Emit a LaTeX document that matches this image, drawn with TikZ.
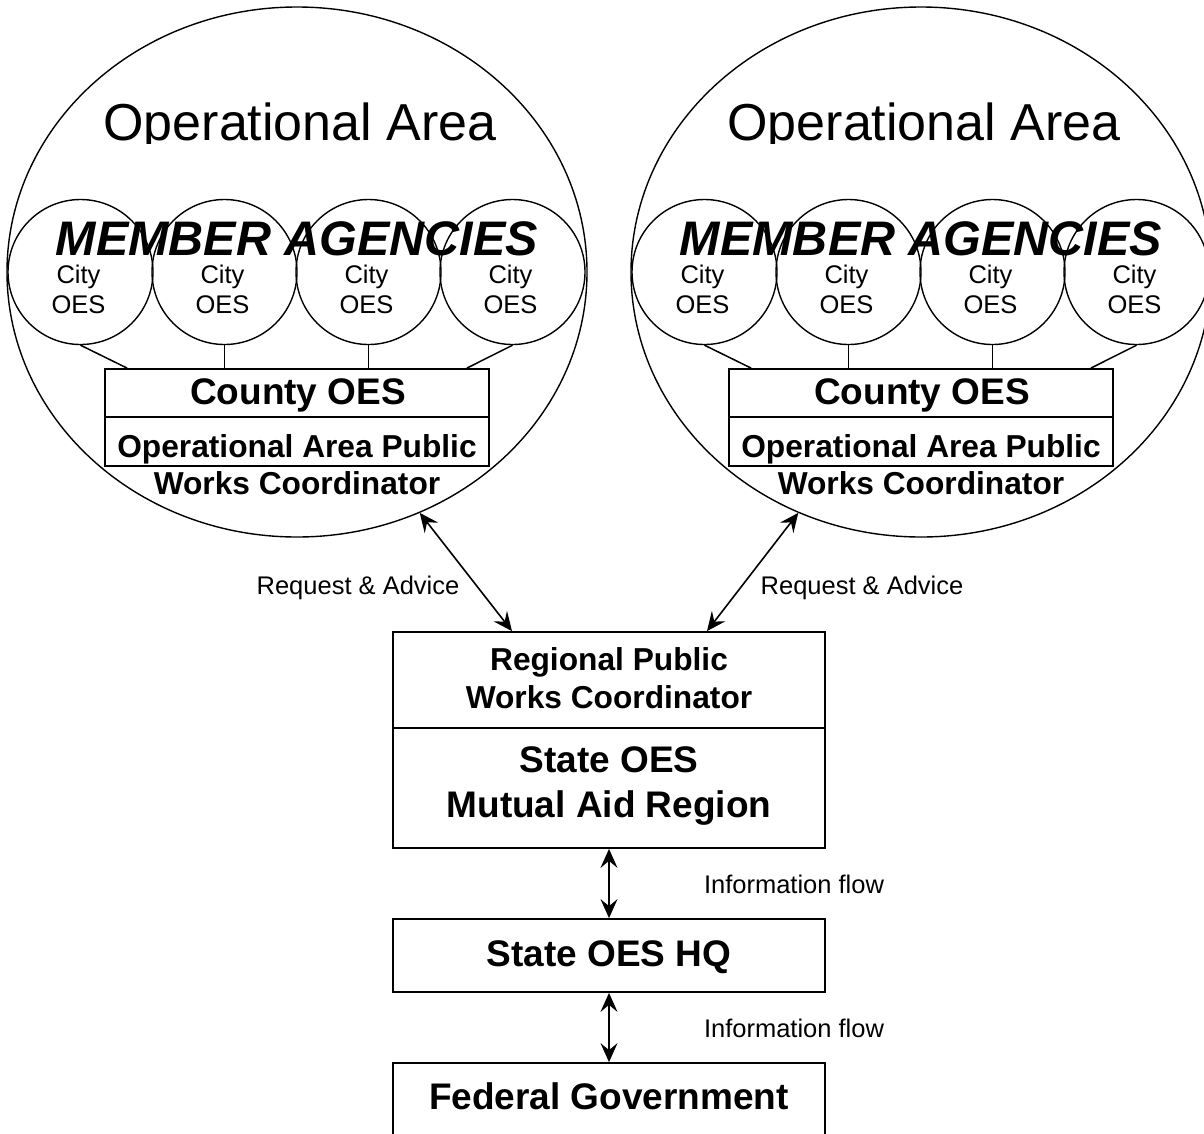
\documentclass[tikz,border=0pt]{standalone}
\usepackage{fontspec}
\setmainfont{Liberation Sans}
\usetikzlibrary{shapes.geometric,arrows.meta}

\newcommand{\setfs}[1]{\fontsize{#1}{#1}\selectfont}

\tikzset{
  area/.style={ellipse, draw, line width=1.4pt, minimum width=580pt, minimum height=530pt, inner sep=0pt},
  city/.style={circle, draw, line width=1.4pt, minimum size=145pt, inner sep=0pt},
  box/.style={rectangle, draw, line width=1.8pt, inner sep=0pt},
  link/.style={line width=1.5pt},
  headtip/.tip={Stealth[length=19pt,width=17pt,inset=7pt]},
  flow/.style={line width=1.6pt, headtip-headtip},
  txt/.style={anchor=base, inner sep=0pt},
  areatitle/.style={txt, font=\setfs{52}},
  member/.style={txt, font=\bfseries\itshape\setfs{48.5}},
  small/.style={txt, font=\setfs{25.5}},
  boxbig/.style={txt, font=\bfseries\setfs{37}},
  boxmid/.style={txt, font=\bfseries\setfs{37}},
  boxsmall/.style={txt, font=\bfseries\setfs{31.7}},
}

\begin{document}
\begin{tikzpicture}[x=1pt, y=-1pt]
  \useasboundingbox (0,0) rectangle (1204,1133);
  \clip (0,0) rectangle (1204,1133);

  % the two operational areas
  \foreach \s/\dx in {L/0, R/624} {
    \node[area] (area\s) at (297+\dx,272) {};
    \begin{scope}
      \clip (0,0) rectangle (1204,143);
      \node[areatitle] (title\s) at (300+\dx,140) {Operational Area};
    \end{scope}

    % member agencies
    \foreach \k/\cx in {1/80.5, 2/224.5, 3/368.5, 4/512.5} {
      \node[city] (c\s\k) at (\cx+\dx,272) {};
      \node[small] (cityA\s\k) at (\cx+\dx-2,283) {City};
      \node[small] (cityB\s\k) at (\cx+\dx-2,313) {OES};
    }
    \node[member] (mem\s) at (297+\dx,255) {MEMBER AGENCIES};

    % county office
    \node[box, minimum width=384pt, minimum height=48pt] (ctop\s) at (297+\dx,393) {};
    \node[box, minimum width=384pt, minimum height=49pt] (cbot\s) at (297+\dx,441.5) {};
    \node[boxmid] (county\s) at (298+\dx,404) {County OES};
    \node[boxsmall] (oapw\s) at (297+\dx,457) {Operational Area Public};
    \node[boxsmall] (works\s) at (297+\dx,494) {Works Coordinator};

    \draw[link] (c\s1.south) -- ([xshift=23pt]ctop\s.north west);
    \draw[link] (c\s2.south) -- (c\s2.south |- ctop\s.north);
    \draw[link] (c\s3.south) -- (c\s3.south |- ctop\s.north);
    \draw[link] (c\s4.south) -- ([xshift=-23pt]ctop\s.north east);
  }

  % region, state and federal levels
  \node[box, minimum width=432pt, minimum height=96pt] (regtop) at (609,680) {};
  \node[box, minimum width=432pt, minimum height=120pt] (regbot) at (609,788) {};
  \node[boxsmall] (rpw1) at (609,670) {Regional Public};
  \node[boxsmall] (rpw2) at (609,708) {Works Coordinator};
  \node[boxbig] (soes1) at (609,772) {State OES};
  \node[boxbig] (soes2) at (609,817) {Mutual Aid Region};

  \node[box, minimum width=432pt, minimum height=73pt] (hq) at (609,955.5) {};
  \node[boxbig] (hqtxt) at (609,966) {State OES HQ};

  \node[box, minimum width=432pt, minimum height=97pt] (fed) at (609,1111.5) {};
  \node[boxbig] (fedtxt) at (609,1109) {Federal Government};

  % connectors
  \draw[flow] (areaL.-63) -- ([xshift=-97pt]regtop.north);
  \draw[flow] (areaR.-117) -- ([xshift=98pt]regtop.north);
  \draw[flow] (regbot.south) -- (hq.north);
  \draw[flow] (hq.south) -- (fed.north);

  \node[small] (reqL) at (358,594) {Request \& Advice};
  \node[small] (reqR) at (862,594) {Request \& Advice};
  \node[small] (info1) at (794,893) {Information flow};
  \node[small] (info2) at (794,1037) {Information flow};
\end{tikzpicture}
\end{document}
